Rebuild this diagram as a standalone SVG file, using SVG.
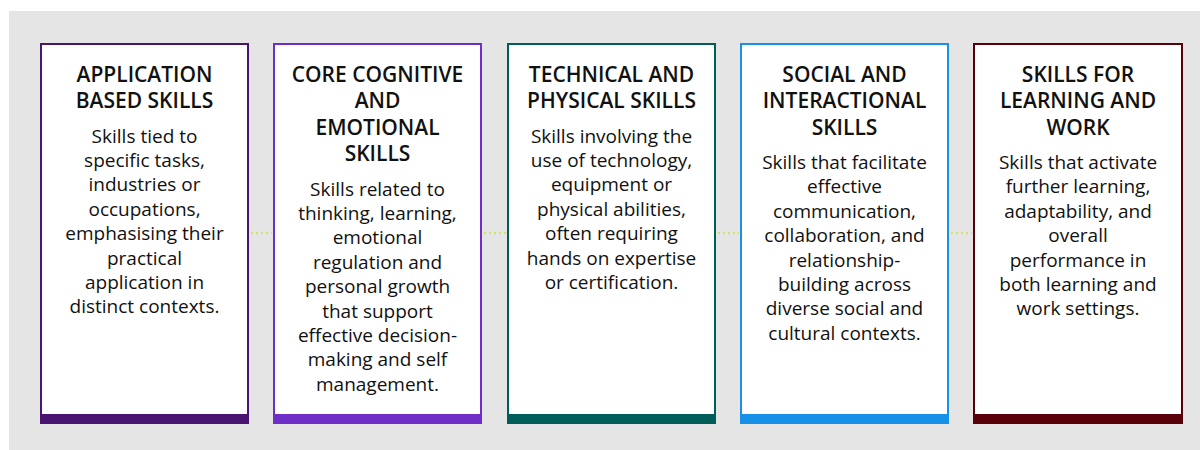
<svg xmlns="http://www.w3.org/2000/svg" width="1200" height="450" viewBox="0 0 1200 450">
<style>
.box{fill:#ffffff;stroke-width:2}
.t{font-family:"Open Sans","Noto Sans","Liberation Sans",sans-serif;font-size:21px;font-weight:600;fill:#111;text-anchor:middle}
.b{font-family:"Open Sans","Noto Sans","Liberation Sans",sans-serif;font-size:19px;fill:#111;text-anchor:middle}
.c{stroke:#d4e35a;stroke-width:2;stroke-dasharray:2 3;fill:none}
</style>
<rect x="9" y="11" width="1191" height="439" fill="#e5e5e5"/>
<g id="connectors">
<line class="c" x1="251" y1="233" x2="272" y2="233"/>
<line class="c" x1="484" y1="233" x2="506" y2="233"/>
<line class="c" x1="718" y1="233" x2="739" y2="233"/>
<line class="c" x1="951" y1="233" x2="972" y2="233"/>
</g>
<g id="node1">
<rect class="box" x="41" y="44" width="207" height="378" stroke="#4a1570"/>
<rect x="40" y="414" width="209" height="10" fill="#4a1570"/>
<text class="t" x="144.5" y="81.5"><tspan x="144.5">APPLICATION</tspan><tspan x="144.5" dy="26.5">BASED SKILLS</tspan></text>
<text class="b" x="144.5" y="142.5"><tspan x="144.5">Skills tied to</tspan><tspan x="144.5" dy="24.4">specific tasks,</tspan><tspan x="144.5" dy="24.4">industries or</tspan><tspan x="144.5" dy="24.4">occupations,</tspan><tspan x="144.5" dy="24.4">emphasising their</tspan><tspan x="144.5" dy="24.4">practical</tspan><tspan x="144.5" dy="24.4">application in</tspan><tspan x="144.5" dy="24.4">distinct contexts.</tspan></text>
</g>
<g id="node2">
<rect class="box" x="274" y="44" width="207" height="378" stroke="#6f2ec8"/>
<rect x="273" y="414" width="209" height="10" fill="#6f2ec8"/>
<text class="t" x="377.5" y="81.5"><tspan x="377.5">CORE COGNITIVE</tspan><tspan x="377.5" dy="26.5">AND</tspan><tspan x="377.5" dy="26.5">EMOTIONAL</tspan><tspan x="377.5" dy="26.5">SKILLS</tspan></text>
<text class="b" x="377.5" y="195.5"><tspan x="377.5">Skills related to</tspan><tspan x="377.5" dy="24.4">thinking, learning,</tspan><tspan x="377.5" dy="24.4">emotional</tspan><tspan x="377.5" dy="24.4">regulation and</tspan><tspan x="377.5" dy="24.4">personal growth</tspan><tspan x="377.5" dy="24.4">that support</tspan><tspan x="377.5" dy="24.4">effective decision-</tspan><tspan x="377.5" dy="24.4">making and self</tspan><tspan x="377.5" dy="24.4">management.</tspan></text>
</g>
<g id="node3">
<rect class="box" x="508" y="44" width="207" height="378" stroke="#015d59"/>
<rect x="507" y="414" width="209" height="10" fill="#015d59"/>
<text class="t" x="611.5" y="81.5"><tspan x="611.5">TECHNICAL AND</tspan><tspan x="611.5" dy="26.5">PHYSICAL SKILLS</tspan></text>
<text class="b" x="611.5" y="142.5"><tspan x="611.5">Skills involving the</tspan><tspan x="611.5" dy="24.4">use of technology,</tspan><tspan x="611.5" dy="24.4">equipment or</tspan><tspan x="611.5" dy="24.4">physical abilities,</tspan><tspan x="611.5" dy="24.4">often requiring</tspan><tspan x="611.5" dy="24.4">hands on expertise</tspan><tspan x="611.5" dy="24.4">or certification.</tspan></text>
</g>
<g id="node4">
<rect class="box" x="741" y="44" width="207" height="378" stroke="#1791e8"/>
<rect x="740" y="414" width="209" height="10" fill="#1791e8"/>
<text class="t" x="844.5" y="81.5"><tspan x="844.5">SOCIAL AND</tspan><tspan x="844.5" dy="26.5">INTERACTIONAL</tspan><tspan x="844.5" dy="26.5">SKILLS</tspan></text>
<text class="b" x="844.5" y="169"><tspan x="844.5">Skills that facilitate</tspan><tspan x="844.5" dy="24.4">effective</tspan><tspan x="844.5" dy="24.4">communication,</tspan><tspan x="844.5" dy="24.4">collaboration, and</tspan><tspan x="844.5" dy="24.4">relationship-</tspan><tspan x="844.5" dy="24.4">building across</tspan><tspan x="844.5" dy="24.4">diverse social and</tspan><tspan x="844.5" dy="24.4">cultural contexts.</tspan></text>
</g>
<g id="node5">
<rect class="box" x="974" y="44" width="208" height="378" stroke="#5a0009"/>
<rect x="973" y="414" width="210" height="10" fill="#5a0009"/>
<text class="t" x="1078" y="81.5"><tspan x="1078">SKILLS FOR</tspan><tspan x="1078" dy="26.5">LEARNING AND</tspan><tspan x="1078" dy="26.5">WORK</tspan></text>
<text class="b" x="1078" y="169"><tspan x="1078">Skills that activate</tspan><tspan x="1078" dy="24.4">further learning,</tspan><tspan x="1078" dy="24.4">adaptability, and</tspan><tspan x="1078" dy="24.4">overall</tspan><tspan x="1078" dy="24.4">performance in</tspan><tspan x="1078" dy="24.4">both learning and</tspan><tspan x="1078" dy="24.4">work settings.</tspan></text>
</g>
</svg>
